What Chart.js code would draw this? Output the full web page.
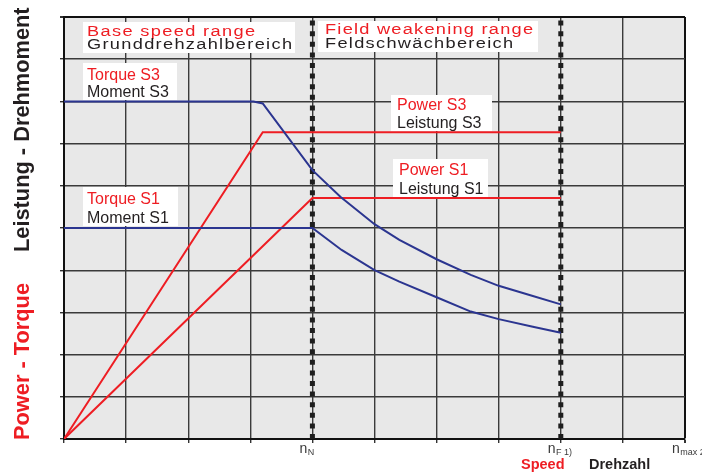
<!DOCTYPE html>
<html>
<head>
<meta charset="utf-8">
<script src="https://cdn.jsdelivr.net/npm/chart.js@4"></script>
<style>
  html, body { margin: 0; padding: 0; background: #fff; }
  canvas { display: block; }
</style>
</head>
<body>
<canvas id="speed-torque-chart" width="702" height="475"></canvas>
<script>
// speed axis in grid units: n_N = 4, n_F = 8, n_max = 10
const speedS3 = [0, 3.05, 3.2, 4, 4.45, 5, 5.4, 6, 6.55, 7, 7.55, 8];
const torqueS3 = [8, 8, 7.95, 6.37, 5.74, 5.09, 4.72, 4.26, 3.89, 3.63, 3.39, 3.19];
const speedS1 = [0, 4, 4.47, 5, 5.4, 6, 6.55, 7, 7.55, 8];
const torqueS1 = [5, 5, 4.48, 4.0, 3.73, 3.36, 3.02, 2.84, 2.66, 2.52];
const powerSpeedS3 = [0, 3.2, 8];
const powerS3 = [0, 7.27, 7.27];
const powerSpeedS1 = [0, 4, 8];
const powerS1 = [0, 5.71, 5.71];
const rangeLimits = [4, 8];
const speedTicks = [4, 8, 10];
const speedTickSub = ['N', 'F 1)', 'max 2)'];

const RED = '#ee1d23';
const BLUE = '#2b3590';
const BLACK = '#231f20';
const FONT = "'Liberation Sans', Arial, sans-serif";

const toPoints = (xs, ys) => xs.map((x, i) => ({ x: x, y: ys[i] }));

function lineSet(label, xs, ys, color) {
    return {
        label: label,
        data: toPoints(xs, ys),
        borderColor: color,
        borderWidth: 2,
        pointRadius: 0,
        tension: 0,
        fill: false,
    };
}

// spread a string over a given width (the original uses an extended face)
function drawSpread(ctx, text, x, y, width, sx) {
    const chars = [...text];
    const widths = chars.map(c => ctx.measureText(c).width * sx);
    const total = widths.reduce((a, b) => a + b, 0);
    const gap = (width - total) / (chars.length - 1);
    let cx = x;
    chars.forEach((c, i) => {
        ctx.save();
        ctx.translate(cx, y);
        ctx.scale(sx, 1);
        ctx.fillText(c, 0, 0);
        ctx.restore();
        cx += widths[i] + gap;
    });
}

const boxes = [
    { x: 83, y: 22, w: 212, h: 31, wide: true, lines: [
        ['Base speed range', RED, 87, 35.5, 168],
        ['Grunddrehzahlbereich', BLACK, 87, 49, 205]] },
    { x: 318, y: 21, w: 220, h: 31, wide: true, lines: [
        ['Field weakening range', RED, 325, 34, 208],
        ['Feldschwächbereich', BLACK, 325, 47.5, 188]] },
    { x: 83, y: 63, w: 94, h: 37, lines: [
        ['Torque S3', RED, 87, 80], ['Moment S3', BLACK, 87, 97]] },
    { x: 83, y: 187, w: 95, h: 39, lines: [
        ['Torque S1', RED, 87, 204], ['Moment S1', BLACK, 87, 223]] },
    { x: 391, y: 95, w: 101, h: 36, lines: [
        ['Power S3', RED, 397, 110], ['Leistung S3', BLACK, 397, 128]] },
    { x: 393, y: 159, w: 95, h: 38, lines: [
        ['Power S1', RED, 399, 175], ['Leistung S1', BLACK, 399, 194]] },
];

const decorations = {
    id: 'decorations',
    beforeDraw(chart) {
        const { ctx, chartArea: a } = chart;
        ctx.save();
        ctx.fillStyle = '#e8e8e8';
        ctx.fillRect(a.left, a.top, a.right - a.left, a.bottom - a.top);
        ctx.restore();
    },
    beforeDatasetsDraw(chart) {
        const ctx = chart.ctx;
        ctx.save();
        boxes.forEach(b => {
            ctx.fillStyle = '#fff';
            ctx.fillRect(b.x, b.y, b.w, b.h);
            b.lines.forEach(([text, color, x, y, width]) => {
                ctx.fillStyle = color;
                ctx.textBaseline = 'alphabetic';
                if (b.wide) {
                    ctx.font = '14px ' + FONT;
                    drawSpread(ctx, text, x, y, width, 1.3);
                } else {
                    ctx.font = '16px ' + FONT;
                    ctx.fillText(text, x, y);
                }
            });
        });
        ctx.restore();
    },
    afterDraw(chart) {
        const { ctx } = chart;
        const xScale = chart.scales.x;
        ctx.save();
        ctx.textBaseline = 'alphabetic';
        ctx.textAlign = 'left';

        // speed tick labels n_N, n_F, n_max
        speedTicks.forEach((v, i) => {
            const px = xScale.getPixelForValue(v) - 13;
            ctx.fillStyle = '#3a3a3a';
            ctx.font = '14px ' + FONT;
            ctx.fillText('n', px, 453);
            const w = ctx.measureText('n').width;
            ctx.font = '9px ' + FONT;
            ctx.fillText(speedTickSub[i], px + w + 0.5, 454.5);
        });

        // axis titles
        ctx.font = 'bold 14.5px ' + FONT;
        ctx.fillStyle = RED;
        ctx.fillText('Speed', 521, 469);
        ctx.fillStyle = BLACK;
        ctx.fillText('Drehzahl', 589, 469);

        ctx.translate(29, 440);
        ctx.rotate(-Math.PI / 2);
        ctx.font = 'bold 21.8px ' + FONT;
        ctx.fillStyle = RED;
        ctx.fillText('Power - Torque', 0, 0);
        ctx.fillStyle = BLACK;
        ctx.fillText('Leistung - Drehmoment', 188, 0);
        ctx.restore();
    },
};

const dottedLines = rangeLimits.map(v => ({
    label: 'limit',
    data: [{ x: v, y: 0 }, { x: v, y: 10 }],
    borderColor: '#1e1e1e',
    borderWidth: 5,
    borderDash: [5, 5.6],
    borderCapStyle: 'butt',
    pointRadius: 0,
    fill: false,
}));

const edgeColor = ctx => (ctx.tick && (ctx.tick.value === 10) ? '#111' : '#3a3a3a');
const edgeWidth = ctx => (ctx.tick && (ctx.tick.value === 10) ? 2 : 1.4);

new Chart(document.getElementById('speed-torque-chart'), {
    type: 'line',
    data: {
        datasets: [
            lineSet('Torque S3', speedS3, torqueS3, BLUE),
            lineSet('Torque S1', speedS1, torqueS1, BLUE),
            lineSet('Power S3', powerSpeedS3, powerS3, RED),
            lineSet('Power S1', powerSpeedS1, powerS1, RED),
            ...dottedLines,
        ],
    },
    options: {
        responsive: false,
        animation: false,
        devicePixelRatio: 1,
        layout: { padding: { top: 17, right: 17, left: 0, bottom: 0 } },
        plugins: {
            legend: { display: false },
            tooltip: { enabled: false },
        },
        scales: {
            x: {
                type: 'linear',
                min: 0,
                max: 10,
                ticks: { stepSize: 1, display: false },
                grid: { color: edgeColor, lineWidth: edgeWidth, tickLength: 4, tickColor: '#333' },
                border: { color: '#111', width: 2 },
                afterFit: s => { s.height = 36; },
            },
            y: {
                min: 0,
                max: 10,
                ticks: { stepSize: 1, display: false },
                grid: { color: edgeColor, lineWidth: edgeWidth, tickLength: 4, tickColor: '#333' },
                border: { color: '#111', width: 2 },
                afterFit: s => { s.width = 64; },
            },
        },
    },
    plugins: [decorations],
});
</script>
</body>
</html>
